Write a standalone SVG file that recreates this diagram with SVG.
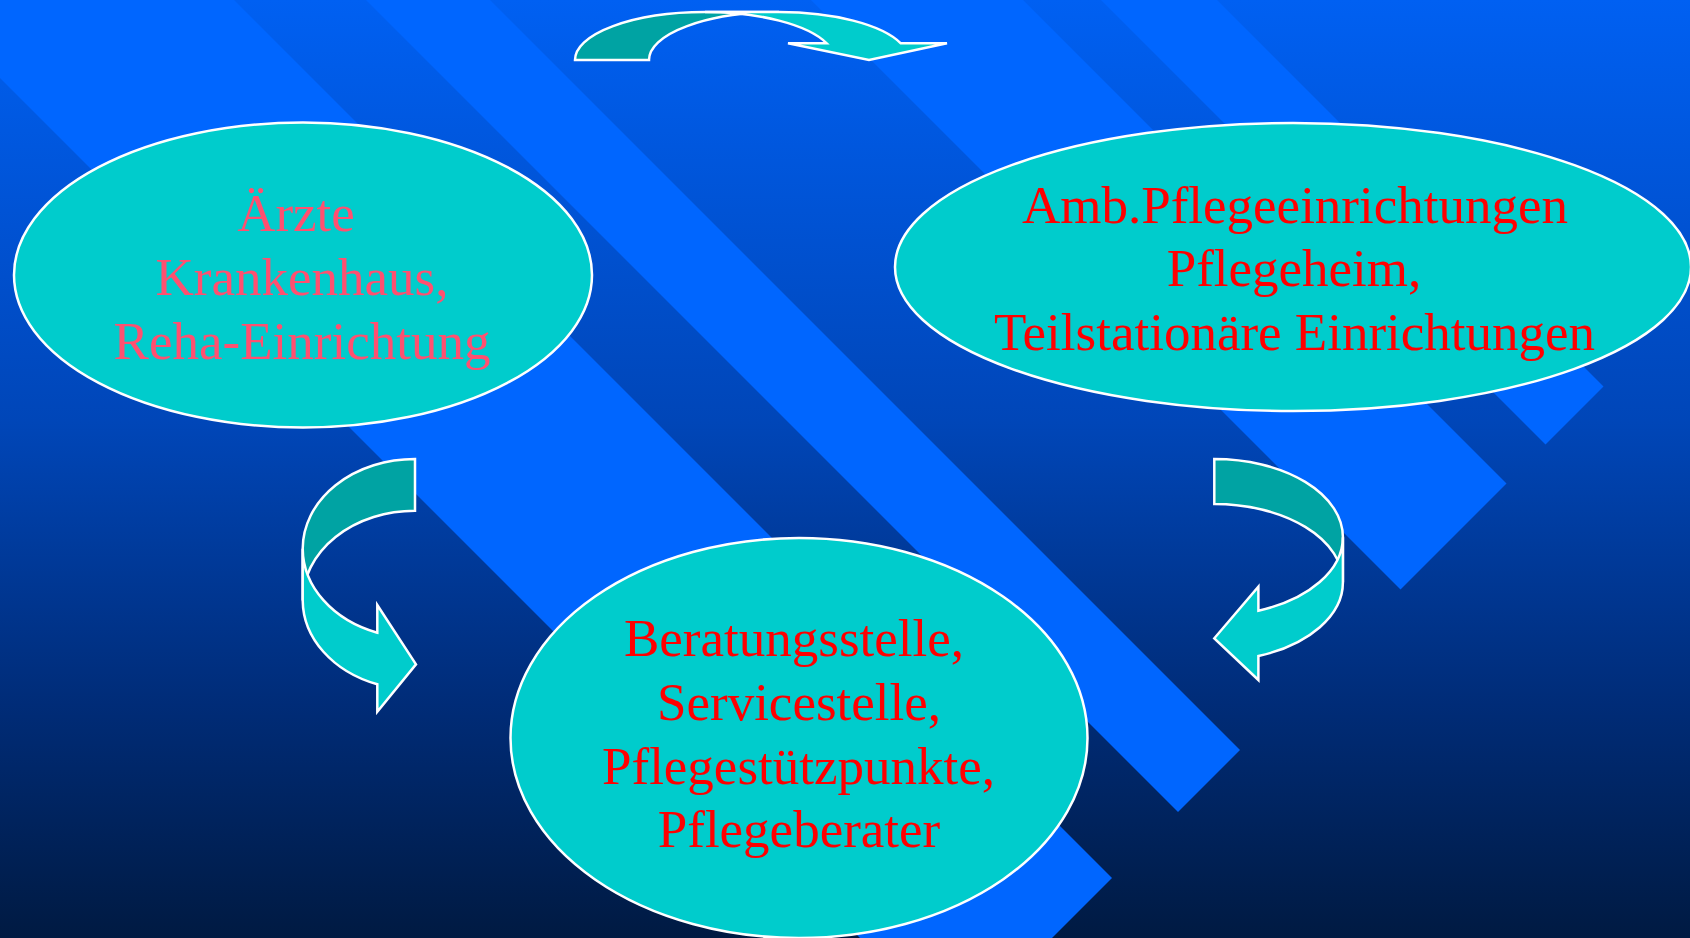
<svg xmlns="http://www.w3.org/2000/svg" width="1690" height="938" viewBox="0 0 1690 938">
  <defs>
    <linearGradient id="bg" x1="0" y1="0" x2="0" y2="1">
      <stop offset="0" stop-color="#0060F2"/>
      <stop offset="0.45" stop-color="#0046B8"/>
      <stop offset="0.75" stop-color="#002C78"/>
      <stop offset="1" stop-color="#001A42"/>
    </linearGradient>
    <style>
      .stripe { fill: #0066FF; }
      .node { fill: #00CCCC; stroke: #FFFFFF; stroke-width: 2.5; }
      .lbl { font-family: "Liberation Serif", "Times New Roman", serif; font-size: 53px; text-anchor: middle; fill: #FF0000; }
      .pink { fill: #FF5070; }
      .back { fill: #00A3A3; stroke: #FFFFFF; stroke-width: 2.5; stroke-linejoin: miter; }
      .front { fill: #00CCCC; stroke: #FFFFFF; stroke-width: 2.5; stroke-linejoin: miter; }
    </style>
  </defs>

  <rect x="0" y="0" width="1690" height="938" fill="url(#bg)"/>

  <g id="stripes">
    <polygon class="stripe" points="-278,-200 956,1034 1112,878 34,-200"/>
    <polygon class="stripe" points="356,-10 1178,812 1240,750 480,-10"/>
    <polygon class="stripe" points="801,-10 1400.5,589.5 1506.5,483.5 1013,-10"/>
    <polygon class="stripe" points="1091,-10 1545.5,444.5 1603.5,386.5 1207,-10"/>
  </g>

  <g id="connectors">
    <g id="arrow-top">
      <path class="back" d="M 575,60 A 130 48 0 0 1 705,12 L 779,12 A 130 48 0 0 0 649,60 Z"/>
      <path class="front" d="M 705,12 A 130 48 0 0 1 826.7,43.3 L 788,43.3 L 869,60 L 947,43.3 L 900.8,43.3 A 130 48 0 0 0 779,12 Z"/>
    </g>
    <g id="arrow-left">
      <path class="back" d="M 415,459 A 112.3 89.7 0 0 0 302.7,548.7 L 302.7,600.4 A 112.3 89.7 0 0 1 415,510.7 Z"/>
      <path class="front" d="M 302.7,548.7 A 112.3 89.7 0 0 0 377.3,632.7 L 377.3,605 L 416,664.3 L 377.3,711.7 L 377.3,684.3 A 112.3 89.7 0 0 1 302.7,600.4 Z"/>
    </g>
    <g id="arrow-right">
      <path class="back" d="M 1214.3,459 A 128.6 78.2 0 0 1 1342.9,537.2 L 1342.9,582.2 A 128.6 78.2 0 0 0 1214.3,504 Z"/>
      <path class="front" d="M 1342.9,537.2 A 128.6 78.2 0 0 1 1258.4,610.7 L 1258.4,586.7 L 1214.3,638.3 L 1258.4,680 L 1258.4,656 A 128.6 78.2 0 0 0 1342.9,582.2 Z"/>
    </g>
  </g>

  <g id="node-aerzte">
    <ellipse class="node" cx="303" cy="275" rx="289" ry="152.5"/>
    <text class="lbl pink" x="296" y="231">Ärzte</text>
    <text class="lbl pink" x="302" y="295">Krankenhaus,</text>
    <text class="lbl pink" x="302" y="359">Reha-Einrichtung</text>
  </g>

  <g id="node-pflege">
    <ellipse class="node" cx="1293" cy="267" rx="398" ry="144"/>
    <text class="lbl" x="1295" y="222.7">Amb.Pflegeeinrichtungen</text>
    <text class="lbl" x="1294" y="286">Pflegeheim,</text>
    <text class="lbl" x="1294.5" y="350">Teilstationäre Einrichtungen</text>
  </g>

  <g id="node-beratung">
    <ellipse class="node" cx="799" cy="738" rx="288.5" ry="200"/>
    <text class="lbl" x="794" y="656">Beratungsstelle,</text>
    <text class="lbl" x="799" y="720">Servicestelle,</text>
    <text class="lbl" x="798.5" y="784">Pflegestützpunkte,</text>
    <text class="lbl" x="799" y="847">Pflegeberater</text>
  </g>
</svg>
